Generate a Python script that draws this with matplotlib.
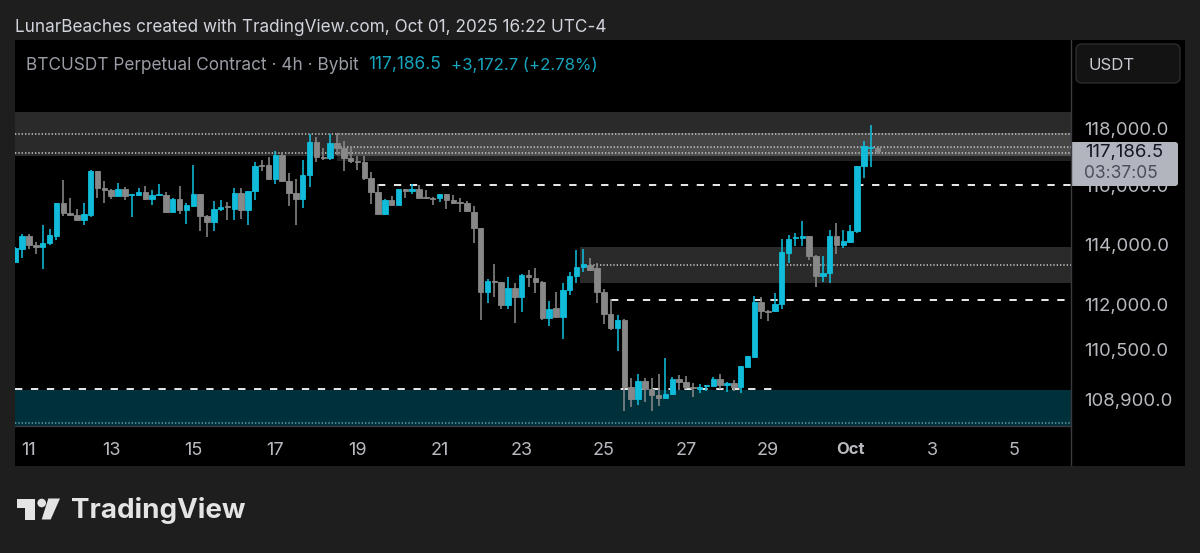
import matplotlib
matplotlib.use("Agg")
import matplotlib.pyplot as plt
from matplotlib.patches import Rectangle, FancyBboxPatch, Polygon, Circle

plt.rcParams['font.family'] = ['Inter', 'DejaVu Sans']

# ---- data (4h candles; index 0 = Sep 11 00:00, 6 candles per day) ----
first_index = -2
opens = [113412,113834,114290,113982,113902,114039,114290,115396,115076,114997,114837,115008,116513,115920,115840,115646,115874,115669,115681,115795,115544,115669,115692,115111,115544,115156,115316,115726,114951,114757,115213,115293,115213,115738,115179,115817,116712,116700,116240,117068,116148,115760,
115559,116356,117506,116988,116953,117482,117321,116965,116850,116804,116264,115774,115017,115525,115356,115875,115807,115898,115615,115593,115570,115717,115514,115446,115401,115118,114565,112400,112779,112734,111989,112553,112237,112971,112881,112757,111532,111870,
111576,112486,112927,113255,113322,113210,112419,111674,111228,111478,109293,108891,109489,109228,109043,108935,109065,109543,109467,109293,109217,109326,109326,109543,109359,109435,109282,109945,110261,112080,111783,111772,112000,
113718,114215,114227,114283,113628,112950,113029,114272,113967,114080,114441,116689,117287,117310]
highs = [113925,114347,114358,114096,114655,114518,115396,116205,115578,115202,115396,116547,116524,116171,115886,116091,115943,115715,115909,116000,115840,116068,115772,115578,116000,115407,116707,115726,115008,115487,115521,115430,115931,115909,115817,116821,116896,116988,117183,117160,116436,116229,
116873,117793,117701,117321,117793,117839,117563,117333,117034,117011,116459,116068,115548,115661,115898,115887,116068,116010,115853,115615,115729,115729,115683,115570,115469,115299,114565,112858,113344,112734,112892,112723,113005,113152,113209,112790,112124,112395,
112702,113063,113831,113865,113549,113379,112498,112159,111630,111522,109598,109706,109598,109576,109706,110217,109630,109685,109652,109413,109380,109370,109630,109706,109446,109522,109956,110304,112283,112226,111804,112362,114170,
114317,114373,114791,114283,113639,113605,114486,114735,114486,114656,116689,117563,118103,117356]
lows = [113389,113560,113845,113674,113184,113982,114153,114974,114974,114791,114666,114928,115578,115407,115544,115635,115521,114940,115635,115521,115339,115658,115054,115088,115019,114700,115293,114472,114267,114472,115122,114837,114837,114860,114655,115521,116505,116240,116068,116148,115293,114666,
115231,115943,116816,116896,116873,117068,116494,116781,116528,116206,115367,115017,114994,115333,115333,115570,115717,115581,115548,115356,115435,115220,115378,115096,115107,114045,111467,112056,112248,111848,111859,111369,111750,112587,112384,111478,111293,111565,
110859,112294,112701,113074,113096,112057,111348,111152,110478,108522,108630,108706,108793,108511,108674,108924,109032,109196,109228,108956,109109,109174,109283,109228,109141,109174,109109,109924,110228,111500,111446,111750,111837,
113379,113944,113944,113492,112565,112757,112701,113695,113887,114057,114396,116263,116643,117103]
closes = [113868,114290,113982,113914,114062,114313,115396,115065,114997,114837,115019,116524,115920,115863,115646,115874,115658,115715,115795,115544,115692,115726,115099,115555,115156,115327,115726,114951,114757,115213,115270,115259,115738,115167,115817,116695,116666,116240,117068,116148,115760,115555,
116356,117506,116976,116942,117482,117321,116965,116850,116804,116264,115774,115017,115525,115356,115875,115819,115898,115593,115581,115559,115717,115502,115423,115412,115130,114565,112400,112768,112745,111989,112553,112237,112983,112892,112757,111532,111859,111587,
112486,112927,113255,113345,113153,112419,111674,111228,111478,109293,108891,109478,109228,109043,108945,109076,109543,109467,109293,109250,109293,109359,109554,109359,109435,109293,109956,110283,112080,111783,111750,112000,113741,
114170,114260,114283,113628,112950,113040,114272,113978,114102,114452,116689,117356,117333,117186.5]

tick_index = [0,12,24,36,48,60,72,84,96,108,120,132,144]
tick_labels = ['11','13','15','17','19','21','23','25','27','29','Oct','3','5']
price_ticks = [118000,116000,114000,112000,110500,108900]
price_labels = ['118,000.0','116,000.0','114,000.0','112,000.0','110,500.0','108,900.0']

# zones: (low, high, start index, strength)
gray_zones = [(117034,118552,-2.05,0.17),(116840,117838,45,0.13),(117030,117355,45,0.06),(112702,113917,80.5,0.17)]
teal_zone = (108036,109200)
dotted_levels = [(117793,-2.05),(117127,-2.05),(117355,45),(113317,82)]
teal_dotted = 108141
dashed_levels = [(116035,51,152.3),(112136,85,152.3),(109228,-2.05,109)]

W,H = 1200,553
XL,XR = -2.05,152.27
BG='#1e1e1e'; UP='#10bcd9'; DOWN='#888888'
fig = plt.figure(figsize=(W/100,H/100),dpi=100,facecolor=BG)
def rect(l,t,r,b): return [l/W,1-b/H,(r-l)/W,(b-t)/H]

back = fig.add_axes(rect(15,39.5,1185,465.5),zorder=0); back.set_facecolor('black'); back.set_xticks([]); back.set_yticks([])
for s in back.spines.values(): s.set_visible(False)

ax = fig.add_axes(rect(15,40,1071,426),zorder=1)
ax.set_facecolor('black')
ax.set_yscale('log')
ax.set_ylim(108036,121115)
ax.set_xlim(XL,XR)
for s in ax.spines.values(): s.set_visible(False)
ax.minorticks_off()
ax.yaxis.tick_right()
ax.set_yticks(price_ticks,price_labels)
ax.yaxis.set_minor_locator(matplotlib.ticker.NullLocator())
ax.tick_params(axis='y',length=0,pad=9.5,labelsize=13.4,labelcolor='#b8bac0')
ax.set_xticks(tick_index,tick_labels)
ax.tick_params(axis='x',length=0,pad=11.5,labelsize=13,labelcolor='#b8bac0')
for t in ax.get_xticklabels():
    if t.get_text()=='Oct':
        t.set_fontweight('bold'); t.set_fontsize(12)

for lo,hi,start,a in gray_zones:
    ax.fill_between([start,XR],lo,hi,color='white',alpha=a,lw=0,zorder=1)
ax.fill_between([XL,XR],teal_zone[0],teal_zone[1],color='#00313a',lw=0,zorder=1)
for lvl,start in dotted_levels:
    ax.hlines(lvl,start,XR,color='#c0c0c0',lw=1.2,linestyles=(0,(0.8,1.2)),zorder=2)
ax.hlines(teal_dotted,XL,XR,color='#5f9aa0',lw=1.2,linestyles=(0,(0.8,1.2)),zorder=2)
for lvl,a,b in dashed_levels:
    ax.hlines(lvl,a,b,color='#f4f4f4',lw=1.35,linestyles=(0,(3.9,4.6)),zorder=2)

xs = [first_index+i for i in range(len(opens))]
cols = [UP if c>=o else DOWN for o,c in zip(opens,closes)]
ax.vlines(xs,lows,highs,colors=cols,lw=1.15,zorder=3)
ax.bar(xs,[abs(c-o) for o,c in zip(opens,closes)],bottom=[min(o,c) for o,c in zip(opens,closes)],width=0.8,color=cols,edgecolor=cols,lw=0.6,zorder=4)

ov = fig.add_axes([0,0,1,1],zorder=5); ov.set_xlim(0,W); ov.set_ylim(H,0); ov.axis('off')
ov.plot([1071,1071],[40,465],color='#3a3a40',lw=1)
ov.plot([15,1071],[426,426],color='#3a3a40',lw=1)
ov.add_patch(FancyBboxPatch((1079,47),98,33,boxstyle='round,pad=3,rounding_size=6',fc='#131313',ec='#2c2c2c',lw=1))
ov.text(1089,65,'USDT',color='#c8cad0',fontsize=12.1,va='center')
ov.add_patch(FancyBboxPatch((1075,145),100,38,boxstyle='round,pad=3,rounding_size=3',fc='#b2b5be',ec='none'))
ov.add_patch(Rectangle((1072,142),8,44,fc='#b2b5be',ec='none'))
ov.text(1085,153,'117,186.5',color='#131722',fontsize=13.4,va='center')
ov.text(1084,173,'03:37:05',color='#4a4e5a',fontsize=12.5,va='center')
ov.text(15,27.5,'LunarBeaches created with TradingView.com, Oct 01, 2025 16:22 UTC-4',color='#d1d4dc',fontsize=12.35,va='center')
ov.text(26,65,'BTCUSDT Perpetual Contract · 4h · Bybit',color='#9a9da5',fontsize=12.4,va='center')
ov.text(368,65,'117,186.5',color='#17a5bd',fontsize=12.5,va='center')
ov.text(451,65,'+3,172.7 (+2.78%)',color='#17a5bd',fontsize=12.1,va='center')
LOGO='#e4e4e4'
ov.add_patch(Polygon([(17,498.5),(35,498.5),(35,519.5),(25,519.5),(25,508),(17,508)],fc=LOGO,ec='none'))
ov.add_patch(Circle((41.7,503),4.3,fc=LOGO,ec='none'))
ov.add_patch(Polygon([(48.3,498.5),(60,498.5),(50.7,519.5),(41.7,519.5)],fc=LOGO,ec='none'))
ov.text(71,510,'TradingView',color=LOGO,fontsize=20,fontweight='bold',va='center')

fig.savefig('out.png',dpi=100,facecolor=BG)
